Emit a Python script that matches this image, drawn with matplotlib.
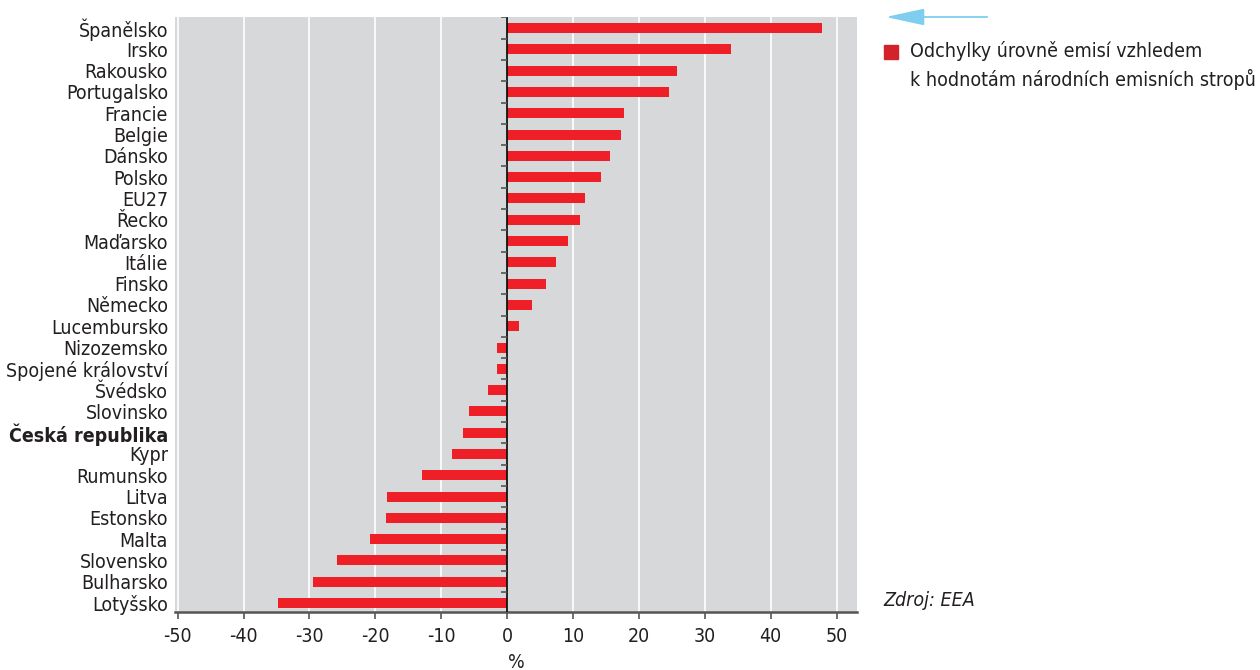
import matplotlib
matplotlib.use("Agg")
import matplotlib.pyplot as plt
import numpy as np

countries = ["Španělsko", "Irsko", "Rakousko", "Portugalsko", "Francie", "Belgie",
             "Dánsko", "Polsko", "EU27", "Řecko", "Maďarsko", "Itálie", "Finsko",
             "Německo", "Lucembursko", "Nizozemsko", "Spojené království", "Švédsko",
             "Slovinsko", "Česká republika", "Kypr", "Rumunsko", "Litva", "Estonsko",
             "Malta", "Slovensko", "Bulharsko", "Lotyšsko"]
values = [47.8, 34.0, 25.8, 24.6, 17.8, 17.3, 15.6, 14.3, 11.8, 11.1, 9.3, 7.4, 5.9,
          3.8, 1.8, -1.5, -1.5, -2.9, -5.8, -6.7, -8.3, -12.9, -18.2, -18.4, -20.8,
          -25.8, -29.4, -34.7]
xticks = [-50, -40, -30, -20, -10, 0, 10, 20, 30, 40, 50]
legend_text = "Odchylky úrovně emisí vzhledem\nk hodnotám národních emisních stropů"
source_text = "Zdroj: EEA"
highlight = "Česká republika"

plt.rcParams['font.family'] = ['DejaVu Sans']
plt.rcParams['font.stretch'] = 'condensed'

RED = "#ee1f26"
BG = "#d7d8da"
TXT = "#231f20"
FS = 14

fig = plt.figure(figsize=(12.6, 6.7), dpi=100)
ax = fig.add_axes([175/1260, 1-612/670, (857-175)/1260, (612-17)/670])
ax.set_facecolor(BG)
y = np.arange(len(countries))
ax.barh(y, values, height=0.47, color=RED, zorder=3)
ax.set_xlim(-50.4, 53.1)
ax.set_ylim(len(countries) - 0.58, -0.52)
ax.set_xticks(xticks)
ax.set_xticklabels([str(t) for t in xticks], fontsize=FS, color=TXT)
ax.grid(axis='x', color='white', linewidth=1.2, zorder=1)
ax.set_yticks(y)
ax.set_yticklabels(countries, fontsize=FS, color=TXT)
for lbl in ax.get_yticklabels():
    if lbl.get_text() == highlight:
        lbl.set_fontweight('bold')
ax.tick_params(axis='y', length=0, pad=5)
ax.tick_params(axis='x', length=5, width=1.2, color='#555555', pad=6, direction='out')
for s in ['top', 'right', 'left']:
    ax.spines[s].set_visible(False)
ax.spines['bottom'].set_color('#555555')
ax.spines['bottom'].set_linewidth(1.8)
ax.axvline(0, color='#111111', linewidth=1.3, zorder=4)
# small ticks on zero line between categories
bounds = np.arange(len(countries) + 1) - 0.5
ax.hlines(bounds[:-1], -0.9, 0, color='#555555', linewidth=1.2, zorder=4)
ax.set_xlabel("%", fontsize=FS, color=TXT, labelpad=5)

# legend
fig.patches.append(plt.Rectangle((884/1260, 1-59/670), 14/1260, 14/670,
                                 transform=fig.transFigure, color="#d2232a"))
fig.text(910/1260, 1-41/670, legend_text, fontsize=FS, color=TXT,
         va='top', ha='left', linespacing=1.5)
fig.text(883/1260, 1-601/670, source_text, fontsize=FS, color=TXT,
         style='italic', va='center', ha='left')
fig.add_artist(matplotlib.patches.FancyArrowPatch(
    (990/1260, 1-17/670), (883/1260, 1-17/670), transform=fig.transFigure,
    arrowstyle='-|>,head_length=12,head_width=2.6', color='#7fcdef', linewidth=1.3,
    mutation_scale=2))

fig.savefig("out.png", dpi=100)
